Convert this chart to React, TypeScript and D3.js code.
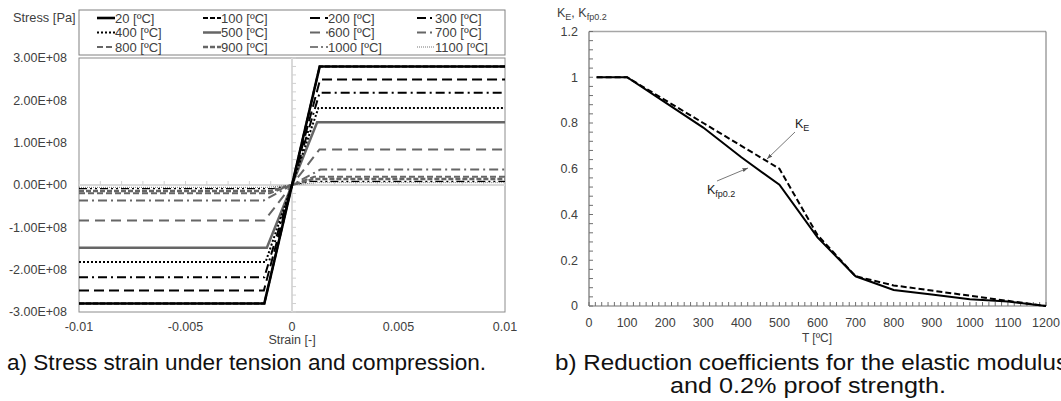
import React from "react";
import * as d3 from "d3";

// ---------- Chart a) data ----------
const temps = [20, 100, 200, 300, 400, 500, 600, 700, 800, 900, 1000, 1100];
const plateauStress = [2.8e8, 2.8e8, 2.49e8, 2.18e8, 1.82e8, 1.48e8, 0.84e8, 0.364e8, 0.196e8, 0.14e8, 0.084e8, 0.056e8];
const yieldStrain = [0.0013, 0.0013, 0.00132, 0.0013, 0.00124, 0.00118, 0.00129, 0.00133, 0.00104, 0.00099, 0.00089, 0.00119];
const strainTicks = [-0.01, -0.005, 0, 0.005, 0.01];
const strainTickLabels = ["-0.01", "-0.005", "0", "0.005", "0.01"];
const stressTicks = [3e8, 2e8, 1e8, 0, -1e8, -2e8, -3e8];
const stressTickLabels = ["3.00E+08", "2.00E+08", "1.00E+08", "0.00E+00", "-1.00E+08", "-2.00E+08", "-3.00E+08"];

// ---------- Chart b) data ----------
const tempK = [20, 100, 200, 300, 400, 500, 600, 700, 800, 900, 1000, 1100, 1200];
const kE = [1, 1, 0.9, 0.8, 0.7, 0.6, 0.31, 0.13, 0.09, 0.0675, 0.045, 0.0225, 0];
const kp02 = [1, 1, 0.89, 0.78, 0.65, 0.53, 0.3, 0.13, 0.07, 0.05, 0.03, 0.02, 0];
const tTicks = [0, 100, 200, 300, 400, 500, 600, 700, 800, 900, 1000, 1100, 1200];
const kTicks = [0, 0.2, 0.4, 0.6, 0.8, 1, 1.2];
const kTickLabels = ["0", "0.2", "0.4", "0.6", "0.8", "1", "1.2"];

// ---------- styles ----------
const GRAY = "#666";
const seriesStyles = [
  { c: "#000", w: 2.6, d: "" },
  { c: "#000", w: 2, d: "5,2" },
  { c: "#000", w: 2, d: "10,5" },
  { c: "#000", w: 2, d: "9,4,2,4" },
  { c: "#000", w: 2, d: "2,2" },
  { c: GRAY, w: 2.5, d: "" },
  { c: GRAY, w: 2, d: "10,6" },
  { c: GRAY, w: 2, d: "9,4,2,4" },
  { c: GRAY, w: 2, d: "6,3" },
  { c: GRAY, w: 2.5, d: "5,2" },
  { c: "#000", w: 1.2, d: "8,3,2,3,2,3" },
  { c: "#777", w: 1, d: "1,1" },
];

const FONT = "'Liberation Sans', Arial, sans-serif";
const TXT = "#404040";

function ChartA() {
  const x = d3.scaleLinear().domain([-0.01, 0.01]).range([79, 505]);
  const y = d3.scaleLinear().domain([-3e8, 3e8]).range([312, 58]);
  const line = d3.line<[number, number]>().x((d) => x(d[0])).y((d) => y(d[1]));
  const minorX = d3.range(-0.01, 0.01001, 0.001);
  const minorY = d3.range(-3e8, 3.0001e8, 0.2e8);
  const legendCols = [97, 203, 310, 417];
  const legendRows = [18, 32.5, 47];
  return (
    <g fontFamily={FONT}>
      <text x={13} y={18} dy="0.35em" fontSize={12.8} fill={TXT}>Stress [Pa]</text>
      {/* legend */}
      <rect x={79} y={10} width={426} height={45} fill="#fff" stroke="#808080" strokeWidth={1} />
      {temps.map((t, i) => {
        const cx = legendCols[i % 4];
        const cy = legendRows[Math.floor(i / 4)];
        const s = seriesStyles[i];
        return (
          <g key={t}>
            <line x1={cx} x2={cx + 18} y1={cy} y2={cy} stroke={s.c} strokeWidth={s.w} strokeDasharray={s.d} />
            <text x={cx + 18} y={cy} dy="0.35em" fontSize={13} fill={TXT}>{`${t} [ºC]`}</text>
          </g>
        );
      })}
      {/* plot frame */}
      <rect x={79} y={58} width={426} height={254} fill="none" stroke="#8c8c8c" strokeWidth={1} />
      {/* zero axes */}
      <line x1={79} x2={505} y1={y(0)} y2={y(0)} stroke="#d9d9d9" strokeWidth={2} />
      <line x1={x(0)} x2={x(0)} y1={58} y2={312} stroke="#d9d9d9" strokeWidth={2} />
      {minorX.map((v, i) => (
        <line key={"mx" + i} x1={x(v)} x2={x(v)} y1={y(0) - 4} y2={y(0)} stroke="#d0d0d0" strokeWidth={1} />
      ))}
      {minorY.map((v, i) => (
        <line key={"my" + i} x1={x(0)} x2={x(0) + 4} y1={y(v)} y2={y(v)} stroke="#d0d0d0" strokeWidth={1} />
      ))}
      {/* series */}
      {temps.map((t, i) => {
        const fy = plateauStress[i];
        const ey = yieldStrain[i];
        const pts: [number, number][] = [[-0.01, -fy], [-ey, -fy], [ey, fy], [0.01, fy]];
        const s = seriesStyles[i];
        return <path key={t} d={line(pts) || ""} fill="none" stroke={s.c} strokeWidth={s.w} strokeDasharray={s.d} strokeLinejoin="miter" />;
      }).reverse()}
      {/* tick labels */}
      {stressTicks.map((v, i) => (
        <text key={"yl" + i} x={67} y={y(v)} dy="0.35em" textAnchor="end" fontSize={12.5} fill={TXT}>{stressTickLabels[i]}</text>
      ))}
      {strainTicks.map((v, i) => (
        <text key={"xl" + i} x={x(v)} y={327} dy="0.35em" textAnchor="middle" fontSize={12.5} fill={TXT}>{strainTickLabels[i]}</text>
      ))}
      <text x={292} y={340} dy="0.35em" textAnchor="middle" fontSize={12.5} fill={TXT}>Strain [-]</text>
    </g>
  );
}

function ChartB() {
  const x = d3.scaleLinear().domain([0, 1200]).range([589, 1046]);
  const y = d3.scaleLinear().domain([0, 1.2]).range([306, 31.5]);
  const line = d3.line<number>().x((_, i) => x(tempK[i])).y((d) => y(d));
  const minorT = d3.range(0, 1200.01, 100 / 6);
  const minorK = d3.range(0, 1.2001, 0.04);
  return (
    <g fontFamily={FONT}>
      <defs>
        <marker id="arr" viewBox="0 0 10 10" refX="10" refY="5" markerWidth="7" markerHeight="7" orient="auto-start-reverse">
          <path d="M0,1.5 L10,5 L0,8.5 z" fill="#555" />
        </marker>
      </defs>
      <text x={557} y={17} fontSize={12.5} fill={TXT}>
        K<tspan fontSize={9} dy={3}>E</tspan><tspan dy={-3}>, K</tspan><tspan fontSize={9} dy={3}>fp0.2</tspan>
      </text>
      {/* frame */}
      <line x1={589} x2={1046} y1={31.5} y2={31.5} stroke="#a6a6a6" strokeWidth={1.5} />
      <line x1={1046} x2={1046} y1={31.5} y2={306} stroke="#707070" strokeWidth={1} />
      <line x1={589} x2={589} y1={31.5} y2={306} stroke="#707070" strokeWidth={1.2} />
      <line x1={589} x2={1046} y1={306} y2={306} stroke="#707070" strokeWidth={1.2} />
      {minorT.map((v, i) => (
        <line key={"mt" + i} x1={x(v)} x2={x(v)} y1={306} y2={302} stroke="#707070" strokeWidth={1} />
      ))}
      {minorK.map((v, i) => (
        <line key={"mk" + i} x1={589} x2={593} y1={y(v)} y2={y(v)} stroke="#707070" strokeWidth={1} />
      ))}
      {/* series */}
      <path d={line(kp02) || ""} fill="none" stroke="#000" strokeWidth={2} />
      <path d={line(kE) || ""} fill="none" stroke="#000" strokeWidth={2} strokeDasharray="6,3" />
      {/* annotations */}
      <line x1={795} y1={132} x2={767} y2={159} stroke="#555" strokeWidth={0.8} markerEnd="url(#arr)" />
      <text x={795} y={124} dy="0.35em" fontSize={12.5} fill="#222">
        K<tspan fontSize={9} dy={3}>E</tspan>
      </text>
      <line x1={717} y1={181} x2={748} y2={168} stroke="#555" strokeWidth={0.8} markerEnd="url(#arr)" />
      <text x={707} y={190} dy="0.35em" fontSize={12.5} fill="#222">
        K<tspan fontSize={9} dy={3}>fp0.2</tspan>
      </text>
      {/* tick labels */}
      {kTicks.map((v, i) => (
        <text key={"kl" + i} x={578} y={y(v)} dy="0.35em" textAnchor="end" fontSize={12.5} fill={TXT}>{kTickLabels[i]}</text>
      ))}
      {tTicks.map((v) => (
        <text key={"tl" + v} x={x(v)} y={323} dy="0.35em" textAnchor="middle" fontSize={12.5} fill={TXT}>{String(v)}</text>
      ))}
      <text x={817} y={338} dy="0.35em" textAnchor="middle" fontSize={12} fill={TXT}>T [ºC]</text>
    </g>
  );
}

export default function App() {
  return (
    <div style={{ position: "absolute", left: 0, top: 0 }}>
      <svg width={1061} height={401} style={{ display: "block", background: "#fff" }}>
        <rect x={0} y={0} width={1061} height={401} fill="#fff" />
        <ChartA />
        <ChartB />
        <g fontFamily={FONT} fontSize={22} fill="#111">
          <text x={7} y={362} dy="0.35em" textLength={479} lengthAdjust="spacingAndGlyphs">a) Stress strain under tension and compression.</text>
          <text x={555} y={362} dy="0.35em" textLength={513} lengthAdjust="spacingAndGlyphs">b) Reduction coefficients for the elastic modulus</text>
          <text x={670} y={385} dy="0.35em" textLength={276} lengthAdjust="spacingAndGlyphs">and 0.2% proof strength.</text>
        </g>
      </svg>
    </div>
  );
}
